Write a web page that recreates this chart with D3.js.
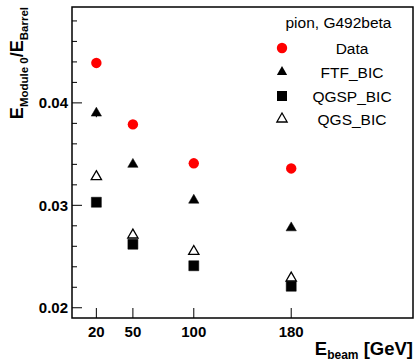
<!DOCTYPE html>
<html>
<head>
<meta charset="utf-8">
<script src="https://cdn.jsdelivr.net/npm/d3@7"></script>
<style>
  html, body { margin: 0; padding: 0; background: #fff; }
  svg { display: block; }
  text { font-family: "Liberation Sans", Arial, sans-serif; }
</style>
</head>
<body>
<script>
// Beam energies (GeV)
const energies = [20, 50, 100, 180];
// Ratio E(Module 0) / E(Barrel) for each sample
const dataVals = [0.0439, 0.0379, 0.0341, 0.0336];
const ftfVals  = [0.0390, 0.0340, 0.0305, 0.0278];
const ftfErr   = [0.0004, 0.0001, 0.0001, 0.0001];
const qgspVals = [0.0303, 0.0262, 0.0241, 0.0221];
const qgsVals  = [0.0328, 0.0271, 0.0255, 0.0229];
const xTicks = [20, 50, 100, 180];
const yTicks = [0.02, 0.03, 0.04];
const legendTitle = "pion, G492beta";
const seriesNames = ["Data", "FTF_BIC", "QGSP_BIC", "QGS_BIC"];

const W = 416, H = 361;
const frame = { left: 72, right: 413, top: 7, bottom: 318 };

const svg = d3.select("body").append("svg").attr("width", W).attr("height", H);

const x = d3.scaleLinear().domain([0, 280]).range([frame.left, frame.right]);
const y = d3.scaleLinear().domain([0.019, 0.04936]).range([frame.bottom, frame.top]);

// Frame
svg.append("rect")
  .attr("x", frame.left).attr("y", frame.top)
  .attr("width", frame.right - frame.left).attr("height", frame.bottom - frame.top)
  .attr("fill", "none").attr("stroke", "#000").attr("stroke-width", 1.5);

// Y axis: ticks drawn inward, major every 0.01, minor every 0.002
const yMinor = d3.range(0.02, 0.0494, 0.002).filter(v => y(v) > frame.top + 1);
svg.append("g").selectAll("line").data(yMinor).join("line")
  .attr("x1", frame.left).attr("x2", v => frame.left + (yTicks.some(t => Math.abs(t - v) < 1e-6) ? 10 : 5))
  .attr("y1", v => y(v)).attr("y2", v => y(v))
  .attr("stroke", "#000").attr("stroke-width", 1);

svg.append("g").selectAll("text").data(yTicks).join("text")
  .attr("x", frame.left - 4).attr("y", v => y(v)).attr("dy", "0.36em")
  .attr("text-anchor", "end").attr("font-size", 15).attr("font-weight", "bold")
  .text(d3.format(".2f"));

// X axis: ticks at beam energies, drawn inward
svg.append("g").selectAll("line").data(xTicks).join("line")
  .attr("x1", v => x(v)).attr("x2", v => x(v))
  .attr("y1", frame.bottom).attr("y2", frame.bottom - 10)
  .attr("stroke", "#000").attr("stroke-width", 1);

svg.append("g").selectAll("text").data(xTicks).join("text")
  .attr("x", v => x(v)).attr("y", 337)
  .attr("text-anchor", "middle").attr("font-size", 15).attr("font-weight", "bold")
  .text(d => d);

// Axis titles
const xt = svg.append("text").attr("x", 413).attr("y", 355)
  .attr("text-anchor", "end").attr("font-weight", "bold").attr("font-size", 18.5);
xt.append("tspan").text("E");
xt.append("tspan").attr("font-size", 12).attr("dy", 4).text("beam");
xt.append("tspan").attr("dy", -4).text(" [GeV]");

const yt = svg.append("text").attr("transform", "translate(23,7) rotate(-90)")
  .attr("text-anchor", "end").attr("font-weight", "bold").attr("font-size", 18);
yt.append("tspan").text("E");
yt.append("tspan").attr("font-size", 11.5).attr("dy", 5).text("Module 0");
yt.append("tspan").attr("dy", -5).text("/E");
yt.append("tspan").attr("font-size", 11.5).attr("dy", 5).text("Barrel");

// Marker shapes
const tri = d3.symbol().type(d3.symbolTriangle).size(46);
const sq = d3.symbol().type(d3.symbolSquare).size(100);

function drawCircles(vals, g) {
  g.selectAll("circle").data(vals).join("circle")
    .attr("cx", (v, i) => x(energies[i])).attr("cy", v => y(v)).attr("r", 5.2)
    .attr("fill", "#ff0000");
}
function drawSymbols(vals, g, gen, fill) {
  g.selectAll("path").data(vals).join("path")
    .attr("transform", (v, i) => `translate(${x(energies[i])},${y(v)})`)
    .attr("d", gen)
    .attr("fill", fill).attr("stroke", "#000").attr("stroke-width", fill === "#fff" ? 1.3 : 0.5);
}

// FTF error bars
svg.append("g").selectAll("line").data(ftfVals).join("line")
  .attr("x1", (v, i) => x(energies[i])).attr("x2", (v, i) => x(energies[i]))
  .attr("y1", (v, i) => y(v - ftfErr[i])).attr("y2", (v, i) => y(v + ftfErr[i]))
  .attr("stroke", "#000").attr("stroke-width", 1);

drawSymbols(qgspVals, svg.append("g"), sq, "#000");
drawSymbols(qgsVals, svg.append("g"), tri, "#fff");
drawSymbols(ftfVals, svg.append("g"), tri, "#000");
drawCircles(dataVals, svg.append("g"));

// Legend
const lg = svg.append("g");
lg.append("text").attr("x", 338.5).attr("y", 28).attr("text-anchor", "middle")
  .attr("font-size", 15.5).text(legendTitle);
const rowsY = [48, 72, 96, 119];
const legendMarkers = [
  g => g.append("circle").attr("r", 5.2).attr("fill", "#ff0000"),
  g => g.append("path").attr("d", tri).attr("fill", "#000"),
  g => g.append("path").attr("d", sq).attr("fill", "#000"),
  g => g.append("path").attr("d", tri).attr("fill", "#fff").attr("stroke", "#000").attr("stroke-width", 1.3)
];
seriesNames.forEach((name, i) => {
  const g = lg.append("g").attr("transform", `translate(282,${rowsY[i]})`);
  legendMarkers[i](g);
  lg.append("text").attr("x", 352).attr("y", rowsY[i]).attr("dy", "0.36em")
    .attr("text-anchor", "middle").attr("font-size", 15.5).text(name);
});
</script>
</body>
</html>
